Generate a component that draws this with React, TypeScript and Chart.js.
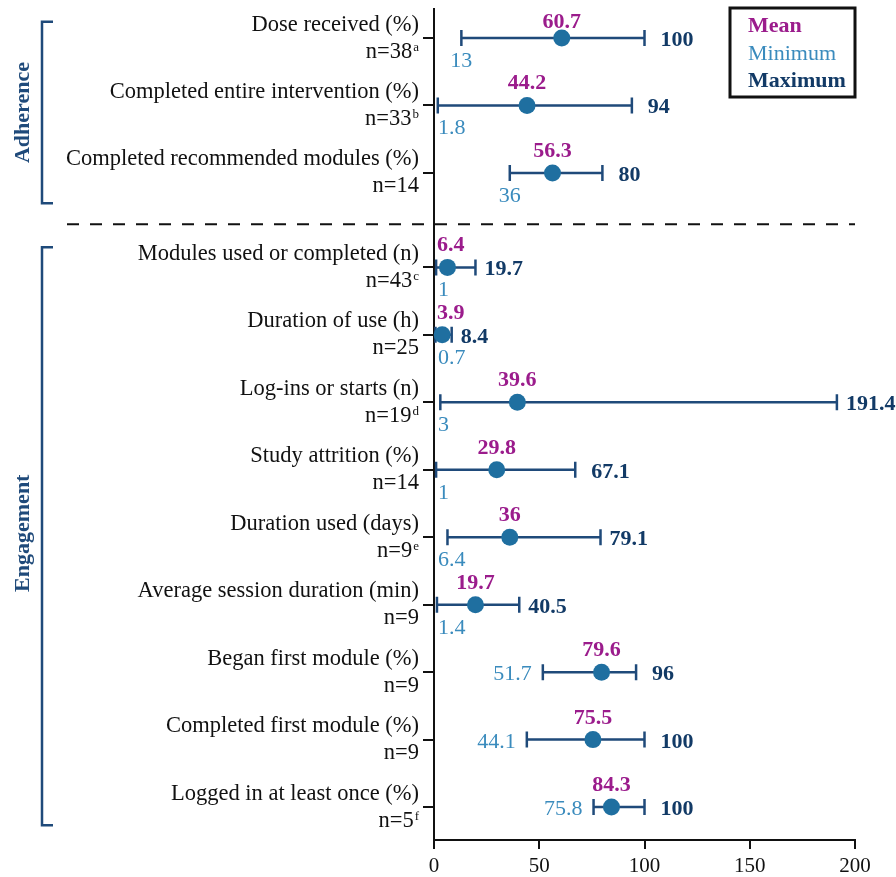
import React, { useEffect, useRef } from "react";
import { Chart, registerables } from "chart.js";

Chart.register(...registerables);

// ---------------- data ----------------
const measures = [
  "Dose received (%)",
  "Completed entire intervention (%)",
  "Completed recommended modules (%)",
  "Modules used or completed (n)",
  "Duration of use (h)",
  "Log-ins or starts (n)",
  "Study attrition (%)",
  "Duration used (days)",
  "Average session duration (min)",
  "Began first module (%)",
  "Completed first module (%)",
  "Logged in at least once (%)",
];
const sampleSizes = ["n=38", "n=33", "n=14", "n=43", "n=25", "n=19", "n=14", "n=9", "n=9", "n=9", "n=9", "n=5"];
const footnotes = ["a", "b", "", "c", "", "d", "", "e", "", "", "", "f"];
const groupOfRow = [0, 0, 0, 1, 1, 1, 1, 1, 1, 1, 1, 1];
const groupNames = ["Adherence", "Engagement"];
const meanValues = [60.7, 44.2, 56.3, 6.4, 3.9, 39.6, 29.8, 36, 19.7, 79.6, 75.5, 84.3];
const minValues = [13, 1.8, 36, 1, 0.7, 3, 1, 6.4, 1.4, 51.7, 44.1, 75.8];
const maxValues = [100, 94, 80, 19.7, 8.4, 191.4, 67.1, 79.1, 40.5, 96, 100, 100];
const xTicks = [0, 50, 100, 150, 200];
const legendItems = ["Mean", "Minimum", "Maximum"];

// ---------------- styles ----------------
const FONT = '"Liberation Serif", "Times New Roman", serif';
const C_MEAN = "#9b1c8c";
const C_MIN = "#3a8bbd";
const C_MAX = "#123a66";
const C_BAR = "#1f4a7a";
const C_DOT = "#1f6fa0";
const C_GROUP = "#1f4a7a";

// row positions on the linear y scale (extra gap between groups)
const rowPos = measures.map((_, i) => i + 0.4 * groupOfRow[i]);

const fmt = (v: number) => String(v);

const overlay = {
  id: "overlay",
  beforeDatasetsDraw(chart: any) {
    const { ctx } = chart;
    const x = chart.scales.x;
    const y = chart.scales.y;
    ctx.save();
    ctx.strokeStyle = C_BAR;
    ctx.lineWidth = 2.5;
    measures.forEach((_, i) => {
      const py = y.getPixelForValue(rowPos[i]);
      const a = x.getPixelForValue(minValues[i]);
      const b = x.getPixelForValue(maxValues[i]);
      ctx.beginPath();
      ctx.moveTo(a, py);
      ctx.lineTo(b, py);
      ctx.moveTo(a, py - 8);
      ctx.lineTo(a, py + 8);
      ctx.moveTo(b, py - 8);
      ctx.lineTo(b, py + 8);
      ctx.stroke();
    });
    ctx.restore();
  },
  afterDraw(chart: any) {
    const { ctx, chartArea } = chart;
    const x = chart.scales.x;
    const y = chart.scales.y;
    const left = chartArea.left;
    ctx.save();

    // row labels
    measures.forEach((m, i) => {
      const py = y.getPixelForValue(rowPos[i]);
      ctx.fillStyle = "#111";
      ctx.textAlign = "right";
      ctx.textBaseline = "alphabetic";
      ctx.font = `22.5px ${FONT}`;
      ctx.fillText(m, 419, py - 7.5);
      let supW = 0;
      if (footnotes[i]) {
        ctx.font = `13px ${FONT}`;
        supW = ctx.measureText(footnotes[i]).width + 1;
        ctx.textAlign = "left";
        ctx.fillText(footnotes[i], 419 - supW + 1, py + 12.5);
      }
      ctx.font = `22.5px ${FONT}`;
      ctx.textAlign = "right";
      ctx.fillText(sampleSizes[i], 419 - supW, py + 19.5);
    });

    // value labels
    measures.forEach((m, i) => {
      const py = y.getPixelForValue(rowPos[i]);
      // mean
      ctx.font = `bold 22px ${FONT}`;
      ctx.fillStyle = C_MEAN;
      ctx.textAlign = "center";
      const mt = fmt(meanValues[i]);
      const mw = ctx.measureText(mt).width;
      const mx = Math.max(x.getPixelForValue(meanValues[i]), left + 3 + mw / 2);
      ctx.fillText(mt, mx, py + (i === 0 ? -10 : -16));
      // minimum
      ctx.font = `22px ${FONT}`;
      ctx.fillStyle = C_MIN;
      const nt = fmt(minValues[i]);
      const nw = ctx.measureText(nt).width;
      const nx = x.getPixelForValue(minValues[i]);
      if (minValues[i] > 40) {
        ctx.textAlign = "right";
        ctx.fillText(nt, nx - 11, py + 8);
      } else {
        ctx.textAlign = "center";
        ctx.fillText(nt, Math.max(nx, left + 4 + nw / 2), py + 29);
      }
      // maximum
      ctx.font = `bold 22px ${FONT}`;
      ctx.fillStyle = C_MAX;
      ctx.textAlign = "left";
      const gap = m.includes("(%)") ? 16 : 9;
      ctx.fillText(fmt(maxValues[i]), x.getPixelForValue(maxValues[i]) + gap, py + 8);
    });

    // dashed separator
    const lastA = groupOfRow.lastIndexOf(0);
    const sepY = y.getPixelForValue(rowPos[lastA] + 0.76);
    ctx.strokeStyle = "#111";
    ctx.lineWidth = 2;
    ctx.setLineDash([12, 11]);
    ctx.beginPath();
    ctx.moveTo(67, sepY);
    ctx.lineTo(chartArea.right, sepY);
    ctx.stroke();
    ctx.setLineDash([]);

    // group brackets
    const ext = [
      [-0.24, 0.45],
      [-0.3, 0.27],
    ];
    groupNames.forEach((g, gi) => {
      const first = groupOfRow.indexOf(gi);
      const last = groupOfRow.lastIndexOf(gi);
      const top = y.getPixelForValue(rowPos[first] + ext[gi][0]);
      const bot = y.getPixelForValue(rowPos[last] + ext[gi][1]);
      ctx.strokeStyle = C_GROUP;
      ctx.lineWidth = 2.5;
      ctx.beginPath();
      ctx.moveTo(53, top);
      ctx.lineTo(42, top);
      ctx.lineTo(42, bot);
      ctx.lineTo(53, bot);
      ctx.stroke();
      ctx.save();
      ctx.translate(22, (top + bot) / 2 - (gi === 1 ? 3 : 0));
      ctx.rotate(-Math.PI / 2);
      ctx.font = `bold 22px ${FONT}`;
      ctx.fillStyle = C_GROUP;
      ctx.textAlign = "center";
      ctx.textBaseline = "middle";
      ctx.fillText(g, 0, 1);
      ctx.restore();
    });

    // legend box
    ctx.strokeStyle = "#111";
    ctx.lineWidth = 3;
    ctx.strokeRect(730, 8, 125, 89);
    const legColors = [C_MEAN, C_MIN, C_MAX];
    const legBold = [true, false, true];
    legendItems.forEach((t, k) => {
      ctx.font = `${legBold[k] ? "bold " : ""}22px ${FONT}`;
      ctx.fillStyle = legColors[k];
      ctx.textAlign = "left";
      ctx.textBaseline = "alphabetic";
      ctx.fillText(t, 748, 32 + k * 27.5);
    });

    ctx.restore();
  },
};

export default function App() {
  const ref = useRef<HTMLCanvasElement | null>(null);

  useEffect(() => {
    document.body.style.margin = "0";
    const canvas = ref.current;
    if (!canvas) return;
    const chart = new Chart(canvas, {
      type: "scatter",
      data: {
        datasets: [
          {
            label: "Mean",
            data: meanValues.map((m, i) => ({ x: m, y: rowPos[i] })),
            pointRadius: 8.5,
            pointHoverRadius: 8.5,
            backgroundColor: C_DOT,
            borderWidth: 0,
            clip: false as any,
          },
        ],
      },
      options: {
        animation: false,
        responsive: false,
        devicePixelRatio: 1,
        events: [],
        layout: { padding: { left: 0, right: 41, top: 9, bottom: 0 } },
        plugins: { legend: { display: false }, tooltip: { enabled: false } },
        scales: {
          x: {
            type: "linear",
            min: 0,
            max: 200,
            afterBuildTicks: (s: any) => {
              s.ticks = xTicks.map((v) => ({ value: v }));
            },
            afterFit: (s: any) => {
              s.height = 37;
            },
            ticks: {
              color: "#111",
              font: { family: FONT, size: 21 },
              padding: 5,
              callback: (v: any) => fmt(Number(v)),
            },
            grid: { drawOnChartArea: false, drawTicks: true, tickLength: 9, color: "#111", lineWidth: 2 },
            border: { display: true, color: "#111", width: 2 },
          },
          y: {
            type: "linear",
            reverse: true,
            min: -0.43,
            max: 11.888,
            afterBuildTicks: (s: any) => {
              s.ticks = rowPos.map((v) => ({ value: v }));
            },
            afterFit: (s: any) => {
              s.width = 434;
            },
            ticks: { display: false },
            grid: { drawOnChartArea: false, drawTicks: true, tickLength: 11, color: "#111", lineWidth: 2 },
            border: { display: true, color: "#111", width: 2 },
          },
        },
      },
      plugins: [overlay],
    });
    return () => chart.destroy();
  }, []);

  return <canvas ref={ref} width={896} height={877} style={{ display: "block" }} />;
}
